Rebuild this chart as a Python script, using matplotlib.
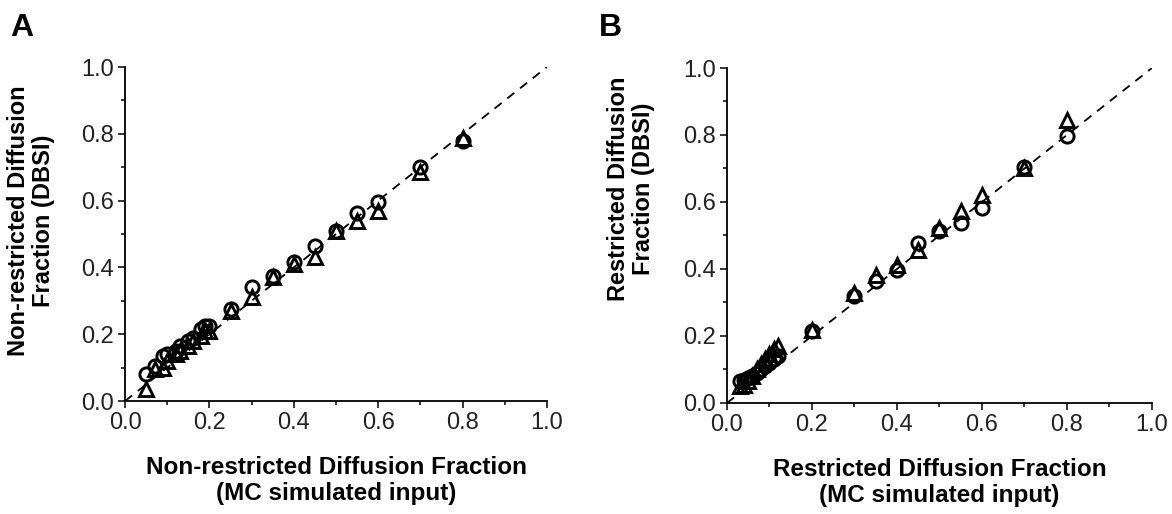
import matplotlib
matplotlib.use("Agg")
import matplotlib.pyplot as plt
from matplotlib.ticker import MultipleLocator

plt.rcParams['font.family'] = ['Liberation Sans', 'DejaVu Sans']

# panel A: non-restricted fraction
a_input = [0.05, 0.07, 0.09, 0.10, 0.12, 0.13, 0.15, 0.16, 0.18, 0.19, 0.20,
           0.25, 0.30, 0.35, 0.40, 0.45, 0.50, 0.55, 0.60, 0.70, 0.80]
a_circle = [0.08, 0.105, 0.135, 0.14, 0.15, 0.165, 0.18, 0.19, 0.215, 0.225, 0.225,
            0.275, 0.34, 0.375, 0.415, 0.465, 0.51, 0.562, 0.595, 0.70, 0.78]
a_triangle = [0.037, 0.095, 0.10, 0.12, 0.14, 0.15, 0.165, 0.18, 0.195, 0.21, 0.21,
              0.27, 0.31, 0.37, 0.41, 0.43, 0.51, 0.54, 0.57, 0.685, 0.788]

# panel B: restricted fraction
b_input = [0.03, 0.04, 0.05, 0.06, 0.07, 0.08, 0.09, 0.10, 0.11, 0.12,
           0.20, 0.30, 0.35, 0.40, 0.45, 0.50, 0.55, 0.60, 0.70, 0.80]
b_circle = [0.065, 0.07, 0.075, 0.08, 0.09, 0.10, 0.11, 0.12, 0.13, 0.14,
            0.214, 0.318, 0.363, 0.398, 0.478, 0.512, 0.537, 0.582, 0.705, 0.796]
b_triangle = [0.05, 0.055, 0.065, 0.08, 0.10, 0.115, 0.13, 0.145, 0.16, 0.17,
              0.218, 0.328, 0.383, 0.412, 0.458, 0.522, 0.572, 0.622, 0.70, 0.846]

panels = [
    ("A", [0.1067, 0.2198, 0.360, 0.6498], a_input, a_circle, a_triangle,
     "Non-restricted Diffusion\nFraction (DBSI)",
     "Non-restricted Diffusion Fraction\n(MC simulated input)", 0.54, 0.009, -0.166),
    ("B", [0.6203, 0.2160, 0.3626, 0.6517], b_input, b_circle, b_triangle,
     "Restricted Diffusion\nFraction (DBSI)",
     "Restricted Diffusion Fraction\n(MC simulated input)", 0.64, 0.511, -0.170),
]

fig = plt.figure(figsize=(11.72, 5.14), dpi=100)

for letter, rect, x, yc, yt, ylab, xlab, ycen, lx, ylx in panels:
    ax = fig.add_axes(rect)
    ax.plot([0, 1], [0, 1], ls=(0, (5, 4)), color='black', lw=1.3, zorder=1)
    ax.plot(x, yc, 'o', mfc='none', mec='black', ms=9.5, mew=2.1, zorder=2)
    ax.plot(x, yt, '^', mfc='none', mec='black', ms=10.5, mew=2.1, zorder=3)

    ax.set_xlim(0, 1)
    ax.set_ylim(0, 1)
    for axis in (ax.xaxis, ax.yaxis):
        axis.set_major_locator(MultipleLocator(0.2))
        axis.set_minor_locator(MultipleLocator(0.1))
    ax.xaxis.set_major_formatter(plt.FormatStrFormatter('%.1f'))
    ax.yaxis.set_major_formatter(plt.FormatStrFormatter('%.1f'))
    ax.tick_params(which='major', direction='out', length=5, width=1.1,
                   labelsize=17, labelcolor='#222222', pad=3)
    ax.tick_params(which='minor', direction='out', length=3, width=1.1)
    for s in ('top', 'right'):
        ax.spines[s].set_visible(False)
    for s in ('left', 'bottom'):
        ax.spines[s].set_linewidth(1.3)

    ax.set_ylabel(ylab, fontsize=17, fontweight='bold', linespacing=1.1)
    ax.yaxis.set_label_coords(ylx, ycen)
    ax.set_xlabel(xlab, fontsize=17.5, fontweight='bold', linespacing=1.15)
    ax.xaxis.set_label_coords(0.5, -0.165)

    fig.text(lx, 0.975, letter, fontsize=23, fontweight='bold', va='top', ha='left')

fig.savefig("out.png", dpi=100)
